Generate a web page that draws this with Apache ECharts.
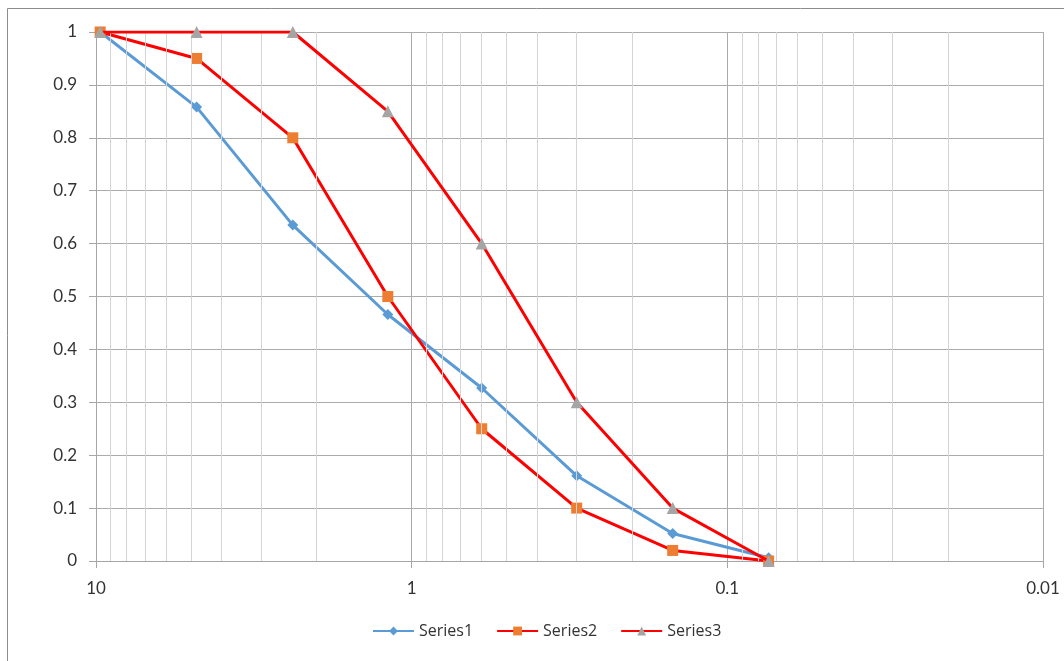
<!DOCTYPE html>
<html>
<head>
<meta charset="utf-8">
<script src="https://cdn.jsdelivr.net/npm/echarts@6/dist/echarts.min.js"></script>
<style>
  html, body { margin: 0; padding: 0; background: #fff; }
  #chart { width: 1064px; height: 661px; }
</style>
</head>
<body>
<div id="chart"></div>
<script>
// sieve sizes (x, log scale, reversed)
const sizes = [9.7, 4.8, 2.38, 1.19, 0.6, 0.3, 0.149, 0.074]
const series1 = [1, 0.858, 0.635, 0.466, 0.327, 0.161, 0.052, 0.006]
const series2 = [1, 0.95, 0.8, 0.5, 0.25, 0.1, 0.02, 0]
const series3 = [1, 1, 1, 0.85, 0.6, 0.3, 0.1, 0]
// minor gridlines of the log axis
const minorLines = [
  0.02, 0.03, 0.04, 0.05, 0.06, 0.07, 0.08, 0.09,
  0.2, 0.3, 0.4, 0.5, 0.6, 0.7, 0.8, 0.9,
  2, 3, 4, 5, 6, 7, 8, 9
]

const chart = echarts.init(document.getElementById('chart'))
const font = 'Lato, "Open Sans", sans-serif'
const pairs = (ys) => sizes.map((x, i) => [x, ys[i]])

const option = {
  animation: false,
  textStyle: { fontFamily: font },
  graphic: [{
    type: 'rect',
    shape: { x: 7.5, y: 8.5, width: 1200, height: 800 },
    style: { fill: 'none', stroke: '#8c8c8c', lineWidth: 1 },
    silent: true
  }],
  grid: { left: 96, right: 21, top: 32, bottom: 100 },
  legend: {
    bottom: 17,
    left: 367,
    itemWidth: 41,
    itemHeight: 11,
    itemGap: 23,
    textStyle: { fontSize: 16, color: '#333', fontFamily: '"Open Sans", sans-serif' },
    data: ['Series1', 'Series2', 'Series3']
  },
  xAxis: {
    type: 'log',
    logBase: 10,
    inverse: true,
    min: 0.01,
    max: 10,
    axisLine: { lineStyle: { color: '#a6a6a6' } },
    axisTick: { show: true, length: 7, lineStyle: { color: '#a6a6a6' } },
    axisLabel: { fontSize: 17, color: '#333', margin: 19 },
    splitLine: { show: true, lineStyle: { color: '#ababab' } }
  },
  yAxis: {
    type: 'value',
    min: 0,
    max: 1,
    interval: 0.1,
    axisLine: { show: true, lineStyle: { color: '#a6a6a6' } },
    axisTick: { show: true, length: 7, lineStyle: { color: '#a6a6a6' } },
    axisLabel: { fontSize: 17, color: '#333', margin: 19 },
    splitLine: { lineStyle: { color: '#ababab' } }
  },
  series: [
    {
      name: 'minor',
      type: 'line',
      data: [],
      z: 1,
      silent: true,
      markLine: {
        silent: true,
        symbol: 'none',
        label: { show: false },
        lineStyle: { color: '#d4d4d4', type: 'solid', width: 1 },
        data: minorLines.map(v => ({ xAxis: v }))
      }
    },
    {
      name: 'Series1',
      type: 'line',
      data: pairs(series1),
      symbol: 'diamond',
      symbolSize: 11,
      lineStyle: { color: '#5b9bd5', width: 3 },
      itemStyle: { color: '#5b9bd5' },
      z: 3
    },
    {
      name: 'Series2',
      type: 'line',
      data: pairs(series2),
      symbol: 'rect',
      symbolSize: 11,
      lineStyle: { color: '#ff0000', width: 3 },
      itemStyle: { color: '#ed7d31' },
      z: 4
    },
    {
      name: 'Series3',
      type: 'line',
      data: pairs(series3),
      symbol: 'triangle',
      symbolSize: 12,
      lineStyle: { color: '#ff0000', width: 3 },
      itemStyle: { color: '#a5a5a5' },
      z: 5
    }
  ]
}

chart.setOption(option)
</script>
</body>
</html>
